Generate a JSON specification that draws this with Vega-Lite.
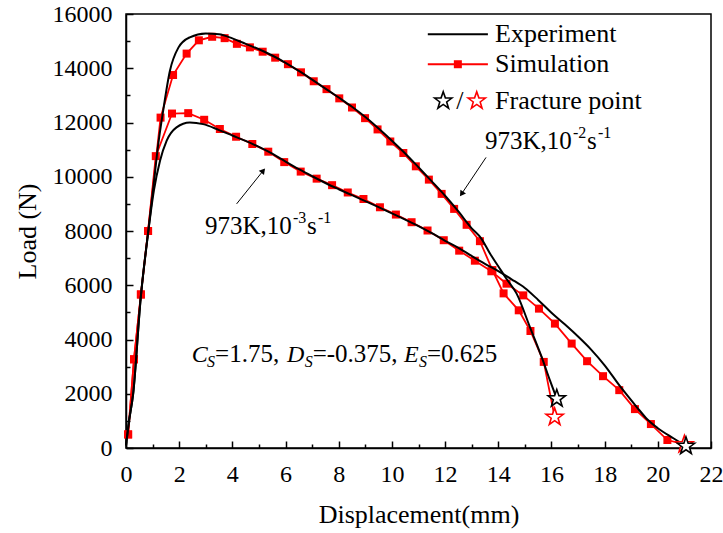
{
  "$schema": "https://vega.github.io/schema/vega-lite/v6.json",
  "width": 585,
  "height": 434,
  "autosize": {"type": "none"},
  "padding": {"left": 126, "top": 14, "right": 12, "bottom": 85},
  "background": "white",
  "config": {
    "view": {"stroke": "black", "strokeWidth": 1.5},
    "font": "Liberation Serif",
    "axis": {"grid": false, "domainColor": "black", "domainWidth": 1.5, "tickColor": "black", "tickWidth": 1.5, "labelColor": "black", "titleColor": "black", "labelFont": "Liberation Serif", "titleFont": "Liberation Serif", "labelFontSize": 24, "titleFontSize": 26, "titleFontWeight": "normal"}
  },
  "datasets": {
    "curves": [
      {"src": "Experiment", "rate": "2", "x": 0.0, "y": 100, "pt": "step"},
      {"src": "Experiment", "rate": "2", "x": 0.1, "y": 900, "pt": "step"},
      {"src": "Experiment", "rate": "2", "x": 0.27, "y": 2000, "pt": "step"},
      {"src": "Experiment", "rate": "2", "x": 0.55, "y": 5500, "pt": "step"},
      {"src": "Experiment", "rate": "2", "x": 0.84, "y": 8000, "pt": "step"},
      {"src": "Experiment", "rate": "2", "x": 1.05, "y": 9800, "pt": "step"},
      {"src": "Experiment", "rate": "2", "x": 1.2, "y": 11100, "pt": "step"},
      {"src": "Experiment", "rate": "2", "x": 1.4, "y": 12450, "pt": "step"},
      {"src": "Experiment", "rate": "2", "x": 1.65, "y": 13900, "pt": "step"},
      {"src": "Experiment", "rate": "2", "x": 1.97, "y": 14760, "pt": "step"},
      {"src": "Experiment", "rate": "2", "x": 2.4, "y": 15140, "pt": "step"},
      {"src": "Experiment", "rate": "2", "x": 3.0, "y": 15280, "pt": "step"},
      {"src": "Experiment", "rate": "2", "x": 3.5, "y": 15250, "pt": "step"},
      {"src": "Experiment", "rate": "2", "x": 4.0, "y": 15100, "pt": "step"},
      {"src": "Experiment", "rate": "2", "x": 4.5, "y": 14900, "pt": "step"},
      {"src": "Experiment", "rate": "2", "x": 5.0, "y": 14700, "pt": "step"},
      {"src": "Experiment", "rate": "2", "x": 5.5, "y": 14470, "pt": "step"},
      {"src": "Experiment", "rate": "2", "x": 6.0, "y": 14200, "pt": "step"},
      {"src": "Experiment", "rate": "2", "x": 6.5, "y": 13900, "pt": "step"},
      {"src": "Experiment", "rate": "2", "x": 7.0, "y": 13580, "pt": "step"},
      {"src": "Experiment", "rate": "2", "x": 7.5, "y": 13250, "pt": "step"},
      {"src": "Experiment", "rate": "2", "x": 8.0, "y": 12920, "pt": "step"},
      {"src": "Experiment", "rate": "2", "x": 8.5, "y": 12580, "pt": "step"},
      {"src": "Experiment", "rate": "2", "x": 9.0, "y": 12200, "pt": "step"},
      {"src": "Experiment", "rate": "2", "x": 9.5, "y": 11780, "pt": "step"},
      {"src": "Experiment", "rate": "2", "x": 10.0, "y": 11330, "pt": "step"},
      {"src": "Experiment", "rate": "2", "x": 10.5, "y": 10860, "pt": "step"},
      {"src": "Experiment", "rate": "2", "x": 11.0, "y": 10350, "pt": "step"},
      {"src": "Experiment", "rate": "2", "x": 11.5, "y": 9830, "pt": "step"},
      {"src": "Experiment", "rate": "2", "x": 12.0, "y": 9300, "pt": "step"},
      {"src": "Experiment", "rate": "2", "x": 12.5, "y": 8720, "pt": "step"},
      {"src": "Experiment", "rate": "2", "x": 13.0, "y": 8100, "pt": "step"},
      {"src": "Experiment", "rate": "2", "x": 13.35, "y": 7740, "pt": "step"},
      {"src": "Experiment", "rate": "2", "x": 13.7, "y": 7150, "pt": "step"},
      {"src": "Experiment", "rate": "2", "x": 14.0, "y": 6700, "pt": "step"},
      {"src": "Experiment", "rate": "2", "x": 14.3, "y": 6250, "pt": "step"},
      {"src": "Experiment", "rate": "2", "x": 14.69, "y": 5690, "pt": "step"},
      {"src": "Experiment", "rate": "2", "x": 15.19, "y": 4460, "pt": "step"},
      {"src": "Experiment", "rate": "2", "x": 15.63, "y": 3360, "pt": "step"},
      {"src": "Experiment", "rate": "2", "x": 15.94, "y": 2500, "pt": "step"},
      {"src": "Experiment", "rate": "2", "x": 16.2, "y": 1820, "pt": "fracture"},
      {"src": "Experiment", "rate": "3", "x": 0.0, "y": 100, "pt": "step"},
      {"src": "Experiment", "rate": "3", "x": 0.1, "y": 900, "pt": "step"},
      {"src": "Experiment", "rate": "3", "x": 0.27, "y": 2000, "pt": "step"},
      {"src": "Experiment", "rate": "3", "x": 0.55, "y": 5500, "pt": "step"},
      {"src": "Experiment", "rate": "3", "x": 0.84, "y": 8000, "pt": "step"},
      {"src": "Experiment", "rate": "3", "x": 1.05, "y": 9500, "pt": "step"},
      {"src": "Experiment", "rate": "3", "x": 1.28, "y": 10590, "pt": "step"},
      {"src": "Experiment", "rate": "3", "x": 1.53, "y": 11330, "pt": "step"},
      {"src": "Experiment", "rate": "3", "x": 1.9, "y": 11820, "pt": "step"},
      {"src": "Experiment", "rate": "3", "x": 2.4, "y": 12000, "pt": "step"},
      {"src": "Experiment", "rate": "3", "x": 2.9, "y": 11940, "pt": "step"},
      {"src": "Experiment", "rate": "3", "x": 3.5, "y": 11720, "pt": "step"},
      {"src": "Experiment", "rate": "3", "x": 4.0, "y": 11520, "pt": "step"},
      {"src": "Experiment", "rate": "3", "x": 4.5, "y": 11320, "pt": "step"},
      {"src": "Experiment", "rate": "3", "x": 5.0, "y": 11100, "pt": "step"},
      {"src": "Experiment", "rate": "3", "x": 5.5, "y": 10850, "pt": "step"},
      {"src": "Experiment", "rate": "3", "x": 6.0, "y": 10560, "pt": "step"},
      {"src": "Experiment", "rate": "3", "x": 6.5, "y": 10280, "pt": "step"},
      {"src": "Experiment", "rate": "3", "x": 7.0, "y": 10020, "pt": "step"},
      {"src": "Experiment", "rate": "3", "x": 7.5, "y": 9770, "pt": "step"},
      {"src": "Experiment", "rate": "3", "x": 8.0, "y": 9540, "pt": "step"},
      {"src": "Experiment", "rate": "3", "x": 8.5, "y": 9320, "pt": "step"},
      {"src": "Experiment", "rate": "3", "x": 9.0, "y": 9100, "pt": "step"},
      {"src": "Experiment", "rate": "3", "x": 9.5, "y": 8880, "pt": "step"},
      {"src": "Experiment", "rate": "3", "x": 10.0, "y": 8650, "pt": "step"},
      {"src": "Experiment", "rate": "3", "x": 10.5, "y": 8420, "pt": "step"},
      {"src": "Experiment", "rate": "3", "x": 11.0, "y": 8180, "pt": "step"},
      {"src": "Experiment", "rate": "3", "x": 11.5, "y": 7920, "pt": "step"},
      {"src": "Experiment", "rate": "3", "x": 12.0, "y": 7640, "pt": "step"},
      {"src": "Experiment", "rate": "3", "x": 12.5, "y": 7380, "pt": "step"},
      {"src": "Experiment", "rate": "3", "x": 13.0, "y": 7080, "pt": "step"},
      {"src": "Experiment", "rate": "3", "x": 13.5, "y": 6790, "pt": "step"},
      {"src": "Experiment", "rate": "3", "x": 14.0, "y": 6520, "pt": "step"},
      {"src": "Experiment", "rate": "3", "x": 14.5, "y": 6220, "pt": "step"},
      {"src": "Experiment", "rate": "3", "x": 15.0, "y": 5900, "pt": "step"},
      {"src": "Experiment", "rate": "3", "x": 15.5, "y": 5460, "pt": "step"},
      {"src": "Experiment", "rate": "3", "x": 16.0, "y": 4990, "pt": "step"},
      {"src": "Experiment", "rate": "3", "x": 16.5, "y": 4560, "pt": "step"},
      {"src": "Experiment", "rate": "3", "x": 17.0, "y": 4110, "pt": "step"},
      {"src": "Experiment", "rate": "3", "x": 17.5, "y": 3620, "pt": "step"},
      {"src": "Experiment", "rate": "3", "x": 18.0, "y": 3050, "pt": "step"},
      {"src": "Experiment", "rate": "3", "x": 18.6, "y": 2250, "pt": "step"},
      {"src": "Experiment", "rate": "3", "x": 19.2, "y": 1520, "pt": "step"},
      {"src": "Experiment", "rate": "3", "x": 19.6, "y": 1060, "pt": "step"},
      {"src": "Experiment", "rate": "3", "x": 20.0, "y": 730, "pt": "step"},
      {"src": "Experiment", "rate": "3", "x": 20.6, "y": 350, "pt": "step"},
      {"src": "Experiment", "rate": "3", "x": 21.06, "y": 70, "pt": "fracture"},
      {"src": "Simulation", "rate": "2", "x": 0.08, "y": 500, "pt": "step"},
      {"src": "Simulation", "rate": "2", "x": 0.3, "y": 3270, "pt": "step"},
      {"src": "Simulation", "rate": "2", "x": 0.56, "y": 5660, "pt": "step"},
      {"src": "Simulation", "rate": "2", "x": 0.83, "y": 8000, "pt": "step"},
      {"src": "Simulation", "rate": "2", "x": 1.3, "y": 12180, "pt": "step"},
      {"src": "Simulation", "rate": "2", "x": 1.77, "y": 13750, "pt": "step"},
      {"src": "Simulation", "rate": "2", "x": 2.28, "y": 14540, "pt": "step"},
      {"src": "Simulation", "rate": "2", "x": 2.74, "y": 15030, "pt": "step"},
      {"src": "Simulation", "rate": "2", "x": 3.24, "y": 15160, "pt": "step"},
      {"src": "Simulation", "rate": "2", "x": 3.71, "y": 15110, "pt": "step"},
      {"src": "Simulation", "rate": "2", "x": 4.17, "y": 14900, "pt": "step"},
      {"src": "Simulation", "rate": "2", "x": 4.66, "y": 14770, "pt": "step"},
      {"src": "Simulation", "rate": "2", "x": 5.14, "y": 14610, "pt": "step"},
      {"src": "Simulation", "rate": "2", "x": 5.61, "y": 14390, "pt": "step"},
      {"src": "Simulation", "rate": "2", "x": 6.09, "y": 14150, "pt": "step"},
      {"src": "Simulation", "rate": "2", "x": 6.58, "y": 13850, "pt": "step"},
      {"src": "Simulation", "rate": "2", "x": 7.06, "y": 13520, "pt": "step"},
      {"src": "Simulation", "rate": "2", "x": 7.54, "y": 13230, "pt": "step"},
      {"src": "Simulation", "rate": "2", "x": 8.02, "y": 12890, "pt": "step"},
      {"src": "Simulation", "rate": "2", "x": 8.5, "y": 12553, "pt": "step"},
      {"src": "Simulation", "rate": "2", "x": 8.99, "y": 12160, "pt": "step"},
      {"src": "Simulation", "rate": "2", "x": 9.46, "y": 11745, "pt": "step"},
      {"src": "Simulation", "rate": "2", "x": 9.94, "y": 11300, "pt": "step"},
      {"src": "Simulation", "rate": "2", "x": 10.43, "y": 10875, "pt": "step"},
      {"src": "Simulation", "rate": "2", "x": 10.9, "y": 10385, "pt": "step"},
      {"src": "Simulation", "rate": "2", "x": 11.39, "y": 9894, "pt": "step"},
      {"src": "Simulation", "rate": "2", "x": 11.87, "y": 9368, "pt": "step"},
      {"src": "Simulation", "rate": "2", "x": 12.34, "y": 8815, "pt": "step"},
      {"src": "Simulation", "rate": "2", "x": 12.81, "y": 8228, "pt": "step"},
      {"src": "Simulation", "rate": "2", "x": 13.31, "y": 7625, "pt": "step"},
      {"src": "Simulation", "rate": "2", "x": 13.78, "y": 6560, "pt": "step"},
      {"src": "Simulation", "rate": "2", "x": 14.2, "y": 5700, "pt": "step"},
      {"src": "Simulation", "rate": "2", "x": 14.77, "y": 5076, "pt": "step"},
      {"src": "Simulation", "rate": "2", "x": 15.21, "y": 4314, "pt": "step"},
      {"src": "Simulation", "rate": "2", "x": 15.71, "y": 3174, "pt": "step"},
      {"src": "Simulation", "rate": "2", "x": 16.12, "y": 1140, "pt": "fracture"},
      {"src": "Simulation", "rate": "3", "x": 0.08, "y": 500, "pt": "step"},
      {"src": "Simulation", "rate": "3", "x": 0.3, "y": 3270, "pt": "step"},
      {"src": "Simulation", "rate": "3", "x": 0.56, "y": 5660, "pt": "step"},
      {"src": "Simulation", "rate": "3", "x": 0.83, "y": 8000, "pt": "step"},
      {"src": "Simulation", "rate": "3", "x": 1.12, "y": 10760, "pt": "step"},
      {"src": "Simulation", "rate": "3", "x": 1.73, "y": 12330, "pt": "step"},
      {"src": "Simulation", "rate": "3", "x": 2.34, "y": 12345, "pt": "step"},
      {"src": "Simulation", "rate": "3", "x": 2.94, "y": 12100, "pt": "step"},
      {"src": "Simulation", "rate": "3", "x": 3.53, "y": 11760, "pt": "step"},
      {"src": "Simulation", "rate": "3", "x": 4.14, "y": 11475, "pt": "step"},
      {"src": "Simulation", "rate": "3", "x": 4.75, "y": 11207, "pt": "step"},
      {"src": "Simulation", "rate": "3", "x": 5.35, "y": 10924, "pt": "step"},
      {"src": "Simulation", "rate": "3", "x": 5.95, "y": 10540, "pt": "step"},
      {"src": "Simulation", "rate": "3", "x": 6.57, "y": 10190, "pt": "step"},
      {"src": "Simulation", "rate": "3", "x": 7.17, "y": 9930, "pt": "step"},
      {"src": "Simulation", "rate": "3", "x": 7.75, "y": 9690, "pt": "step"},
      {"src": "Simulation", "rate": "3", "x": 8.34, "y": 9420, "pt": "step"},
      {"src": "Simulation", "rate": "3", "x": 8.93, "y": 9180, "pt": "step"},
      {"src": "Simulation", "rate": "3", "x": 9.55, "y": 8875, "pt": "step"},
      {"src": "Simulation", "rate": "3", "x": 10.15, "y": 8606, "pt": "step"},
      {"src": "Simulation", "rate": "3", "x": 10.74, "y": 8324, "pt": "step"},
      {"src": "Simulation", "rate": "3", "x": 11.34, "y": 8018, "pt": "step"},
      {"src": "Simulation", "rate": "3", "x": 11.95, "y": 7660, "pt": "step"},
      {"src": "Simulation", "rate": "3", "x": 12.53, "y": 7275, "pt": "step"},
      {"src": "Simulation", "rate": "3", "x": 13.12, "y": 6905, "pt": "step"},
      {"src": "Simulation", "rate": "3", "x": 13.74, "y": 6515, "pt": "step"},
      {"src": "Simulation", "rate": "3", "x": 14.31, "y": 6058, "pt": "step"},
      {"src": "Simulation", "rate": "3", "x": 14.94, "y": 5627, "pt": "step"},
      {"src": "Simulation", "rate": "3", "x": 15.53, "y": 5138, "pt": "step"},
      {"src": "Simulation", "rate": "3", "x": 16.13, "y": 4586, "pt": "step"},
      {"src": "Simulation", "rate": "3", "x": 16.76, "y": 3850, "pt": "step"},
      {"src": "Simulation", "rate": "3", "x": 17.34, "y": 3200, "pt": "step"},
      {"src": "Simulation", "rate": "3", "x": 17.94, "y": 2648, "pt": "step"},
      {"src": "Simulation", "rate": "3", "x": 18.55, "y": 2133, "pt": "step"},
      {"src": "Simulation", "rate": "3", "x": 19.14, "y": 1434, "pt": "step"},
      {"src": "Simulation", "rate": "3", "x": 19.74, "y": 883, "pt": "step"},
      {"src": "Simulation", "rate": "3", "x": 20.36, "y": 294, "pt": "step"},
      {"src": "Simulation", "rate": "3", "x": 21.0, "y": 130, "pt": "fracture"}
    ]
  },
  "encoding": {
    "x": {"field": "x", "type": "quantitative", "scale": {"domain": [0, 22], "nice": false, "zero": false},
      "axis": {"title": "Displacement(mm)", "labelFont": "Liberation Serif", "titleFont": "Liberation Serif", "labelFontSize": 24, "titleFontSize": 26, "titleFontWeight": "normal", "values": [0,1,2,3,4,5,6,7,8,9,10,11,12,13,14,15,16,17,18,19,20,21,22], "labelExpr": "datum.value % 2 === 0 ? datum.label : ''", "tickSize": {"condition": {"test": "datum.value % 2 !== 0", "value": -4}, "value": -7}, "labelPadding": 21, "titlePadding": 12, "labelFlush": false, "labelOverlap": false}},
    "y": {"field": "y", "type": "quantitative", "scale": {"domain": [0, 16000], "nice": false, "zero": false},
      "axis": {"title": "Load (N)", "labelFont": "Liberation Serif", "titleFont": "Liberation Serif", "labelFontSize": 24, "titleFontSize": 26, "titleFontWeight": "normal", "values": [0,1000,2000,3000,4000,5000,6000,7000,8000,9000,10000,11000,12000,13000,14000,15000,16000], "labelExpr": "datum.value % 2000 === 0 ? datum.label : ''", "format": "d", "tickSize": {"condition": {"test": "datum.value % 2000 !== 0", "value": -4}, "value": -7}, "labelPadding": 21, "titlePadding": 12, "labelFlush": false, "labelOverlap": false}}
  },
  "layer": [
    {"data": {"name": "curves"}, "transform": [{"filter": "datum.src === 'Simulation'"}],
     "mark": {"type": "line", "color": "red", "strokeWidth": 1.8}, "encoding": {"detail": {"field": "rate", "type": "nominal"}}},
    {"data": {"name": "curves"}, "transform": [{"filter": "datum.src === 'Simulation' && datum.pt === 'step'"}],
     "mark": {"type": "point", "shape": "square", "filled": true, "color": "red", "size": 64, "opacity": 1}},
    {"data": {"name": "curves"}, "transform": [{"filter": "datum.src === 'Experiment'"}],
     "mark": {"type": "line", "color": "black", "strokeWidth": 2, "interpolate": "monotone"}, "encoding": {"detail": {"field": "rate", "type": "nominal"}}},
    {"data": {"name": "curves"}, "transform": [{"filter": "datum.src === 'Simulation' && datum.pt === 'fracture'"}],
     "mark": {"type": "point", "shape": "M0,-1L0.235,-0.324L0.951,-0.309L0.38,0.124L0.588,0.809L0,0.4L-0.588,0.809L-0.38,0.124L-0.951,-0.309L-0.235,-0.324Z", "filled": true, "fill": "white", "stroke": "red", "strokeWidth": 1.6, "size": 330, "opacity": 1}},
    {"data": {"name": "curves"}, "transform": [{"filter": "datum.src === 'Experiment' && datum.pt === 'fracture'"}],
     "mark": {"type": "point", "shape": "M0,-1L0.235,-0.324L0.951,-0.309L0.38,0.124L0.588,0.809L0,0.4L-0.588,0.809L-0.38,0.124L-0.951,-0.309L-0.235,-0.324Z", "filled": true, "fill": "white", "stroke": "black", "strokeWidth": 1.6, "size": 330, "opacity": 1}},
    {"data": {"values": [{"x": 4.16, "y": 9000, "x2": 5.16, "y2": 10224}, {"x": 13.54, "y": 10713, "x2": 12.62, "y2": 9367}]},
     "mark": {"type": "rule", "color": "black", "strokeWidth": 1},
     "encoding": {"x2": {"field": "x2"}, "y2": {"field": "y2"}}},
    {"data": {"values": [{"x": 5.16, "y": 10224}]},
     "mark": {"type": "point", "shape": "triangle-up", "filled": true, "color": "black", "size": 45, "angle": 39, "opacity": 1}},
    {"data": {"values": [{"x": 12.62, "y": 9367}]},
     "mark": {"type": "point", "shape": "triangle-up", "filled": true, "color": "black", "size": 45, "angle": 214, "opacity": 1}},
    {"data": {"values": [{"t": "973K,10", "x": 13.5, "y": 11033}, {"t": "s", "x": 17.34, "y": 11033}, {"t": "973K,10", "x": 2.97, "y": 7907}, {"t": "s", "x": 6.81, "y": 7907}]},
     "mark": {"type": "text", "align": "left", "baseline": "alphabetic", "fontSize": 25, "color": "black"},
     "encoding": {"text": {"field": "t"}}},
    {"data": {"values": [{"t": "-2", "x": 16.81, "y": 11438}, {"t": "-1", "x": 17.75, "y": 11438}, {"t": "-3", "x": 6.28, "y": 8312}, {"t": "-1", "x": 7.22, "y": 8312}]},
     "mark": {"type": "text", "align": "left", "baseline": "alphabetic", "fontSize": 16, "color": "black"},
     "encoding": {"text": {"field": "t"}}},
    {"data": {"values": [{"t": "C", "x": 2.47, "y": 3170}, {"t": "D", "x": 6.05, "y": 3170}, {"t": "E", "x": 10.45, "y": 3170}]},
     "mark": {"type": "text", "align": "left", "baseline": "alphabetic", "fontSize": 24, "fontStyle": "italic", "color": "black"},
     "encoding": {"text": {"field": "t"}}},
    {"data": {"values": [{"t": "S", "x": 3.05, "y": 2986}, {"t": "S", "x": 6.72, "y": 2986}, {"t": "S", "x": 11.02, "y": 2986}]},
     "mark": {"type": "text", "align": "left", "baseline": "alphabetic", "fontSize": 16, "fontStyle": "italic", "color": "black"},
     "encoding": {"text": {"field": "t"}}},
    {"data": {"values": [{"t": "=1.75,", "x": 3.35, "y": 3170}, {"t": "=-0.375,", "x": 7.02, "y": 3170}, {"t": "=0.625", "x": 11.32, "y": 3170}]},
     "mark": {"type": "text", "align": "left", "baseline": "alphabetic", "fontSize": 25, "color": "black"},
     "encoding": {"text": {"field": "t"}}},
    {"data": {"values": [{"x": 11.35, "x2": 13.61, "y": 15252}]},
     "mark": {"type": "rule", "color": "black", "strokeWidth": 2},
     "encoding": {"x2": {"field": "x2"}}},
    {"data": {"values": [{"x": 11.35, "x2": 13.61, "y": 14148}]},
     "mark": {"type": "rule", "color": "red", "strokeWidth": 2},
     "encoding": {"x2": {"field": "x2"}}},
    {"data": {"values": [{"x": 12.48, "y": 14148}]},
     "mark": {"type": "point", "shape": "square", "filled": true, "color": "red", "size": 64, "opacity": 1}},
    {"data": {"values": [{"x": 11.93, "y": 12799}]},
     "mark": {"type": "point", "shape": "M0,-1L0.235,-0.324L0.951,-0.309L0.38,0.124L0.588,0.809L0,0.4L-0.588,0.809L-0.38,0.124L-0.951,-0.309L-0.235,-0.324Z", "filled": true, "fill": "white", "stroke": "black", "strokeWidth": 1.6, "size": 330, "opacity": 1}},
    {"data": {"values": [{"x": 13.19, "y": 12799}]},
     "mark": {"type": "point", "shape": "M0,-1L0.235,-0.324L0.951,-0.309L0.38,0.124L0.588,0.809L0,0.4L-0.588,0.809L-0.38,0.124L-0.951,-0.309L-0.235,-0.324Z", "filled": true, "fill": "white", "stroke": "red", "strokeWidth": 1.6, "size": 330, "opacity": 1}},
    {"data": {"values": [{"t": "/", "x": 12.56, "y": 12799}]},
     "mark": {"type": "text", "align": "center", "baseline": "middle", "fontSize": 26, "color": "black"},
     "encoding": {"text": {"field": "t"}}},
    {"data": {"values": [{"t": "Experiment", "x": 13.88, "y": 15252}, {"t": "Simulation", "x": 13.88, "y": 14148}, {"t": "Fracture point", "x": 13.88, "y": 12799}]},
     "mark": {"type": "text", "align": "left", "baseline": "middle", "fontSize": 26, "color": "black"},
     "encoding": {"text": {"field": "t"}}}
  ]
}
